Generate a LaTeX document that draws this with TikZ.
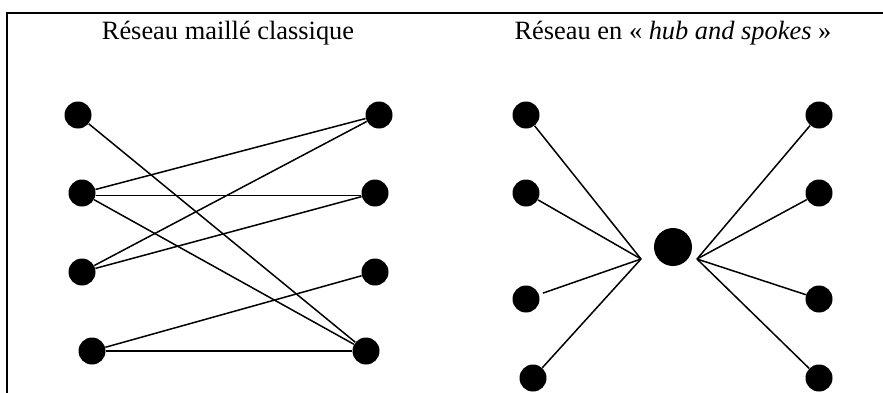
\documentclass[tikz,border=0pt]{standalone}
\usepackage{fontspec}
\setmainfont{Liberation Serif}
\begin{document}
\begin{tikzpicture}[x=0.5pt,y=-0.5pt,
  dot/.style={circle,fill=black,inner sep=0pt,minimum size=13.5pt},
  hubdot/.style={circle,fill=black,inner sep=0pt,minimum size=19pt},
  link/.style={line width=0.75pt},
  frame/.style={line width=1.1pt},
  title/.style={font=\fontsize{13.2}{15}\selectfont}]
\useasboundingbox (0,0) rectangle (883,392);
\draw[frame] (7,393) -- (7,13) -- (884,13);
% titles
\node[title] (t1) at (228,33) {Réseau maillé classique};
\node[title] (t2) at (673,33) {Réseau en « \textit{hub and spokes} »};
% left meshed network
\node[dot] (L1) at (78,115) {};
\node[dot] (L2) at (82,193) {};
\node[dot] (L3) at (82,272) {};
\node[dot] (L4) at (92,351) {};
\node[dot] (R1) at (379,115) {};
\node[dot] (R2) at (375,193) {};
\node[dot] (R3) at (375,272) {};
\node[dot] (R4) at (366,351) {};
\draw[link] (L1) -- (R4);
\draw[link] (L2) -- (R1);
\draw[link] (L2.-10) -- (R2.-170);
\draw[link] (L2) -- (R4);
\draw[link] (L3) -- (R1);
\draw[link] (L3) -- (R2);
\draw[link] (L4) -- (R3);
\draw[link] (L4) -- (R4);
% right hub and spokes
\node[dot] (A1) at (526,115) {};
\node[dot] (A2) at (526,193) {};
\node[dot] (A3) at (526,299) {};
\node[dot] (A4) at (533,378) {};
\node[dot] (B1) at (819,115) {};
\node[dot] (B2) at (819,193) {};
\node[dot] (B3) at (819,299) {};
\node[dot] (B4) at (819,378) {};
\node[hubdot] (H) at (673,247) {};
\coordinate (cl) at (641,259);
\coordinate (cr) at (697,259);
\draw[link] (A1) -- (cl);
\draw[link] (A2) -- (cl);
\draw[link,shorten <=2pt] (A3) -- (cl);
\draw[link] (A4) -- (cl);
\draw[link] (B1) -- (cr);
\draw[link] (B2) -- (cr);
\draw[link] (B3) -- (cr);
\draw[link] (B4) -- (cr);
\end{tikzpicture}
\end{document}
